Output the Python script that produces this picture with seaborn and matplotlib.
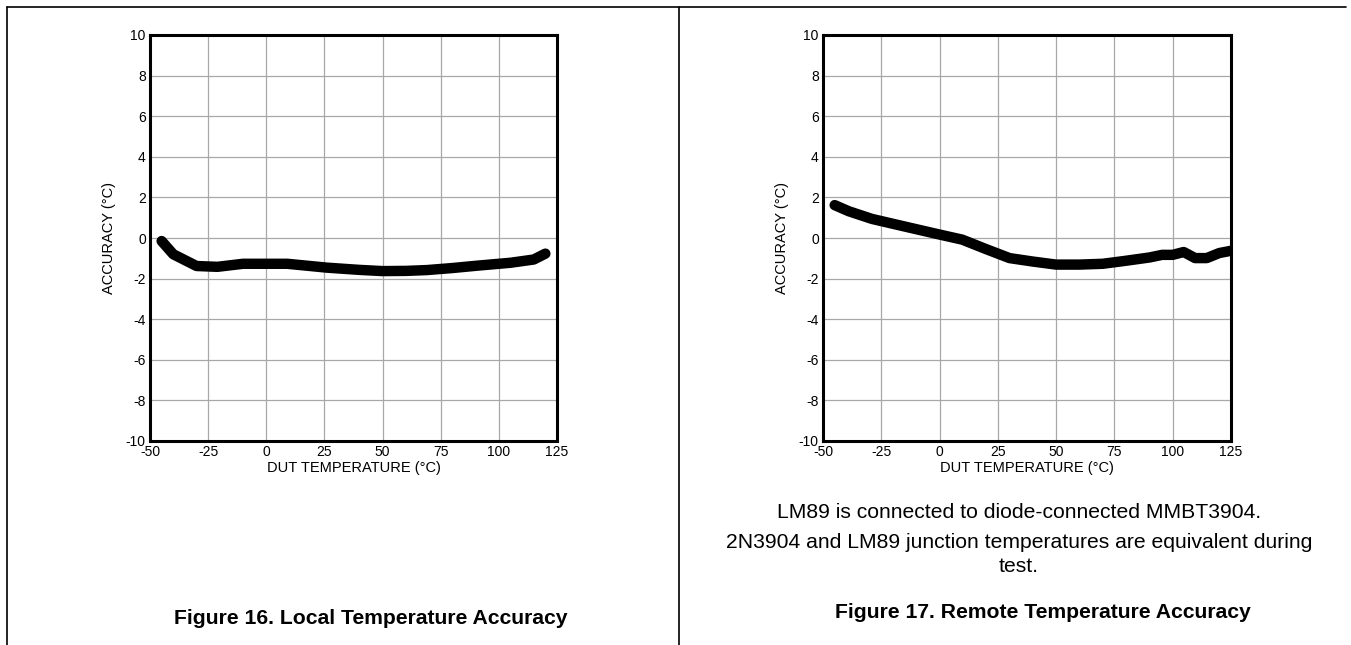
import numpy as np
import pandas as pd
import matplotlib
matplotlib.use("Agg")
import matplotlib.pyplot as plt
from matplotlib.lines import Line2D
import seaborn as sns

# Figure 16 - local temperature accuracy
local_temp = [-45, -40, -30, -21, -10, 0, 9, 26, 40, 50, 60, 69, 80, 91, 105, 115, 120]
local_acc = [-0.15, -0.8, -1.38, -1.42, -1.27, -1.27, -1.27, -1.46, -1.57, -1.63, -1.62, -1.58, -1.48, -1.36, -1.22, -1.06, -0.77]

# Figure 17 - remote temperature accuracy
remote_temp = [-45, -39, -29, -12.5, 0, 9.7, 20, 30, 40, 50, 60, 70, 80, 90, 95.5, 100, 104.7, 109.6, 114.6, 120, 125]
remote_acc = [1.62, 1.32, 0.94, 0.5, 0.17, -0.08, -0.55, -0.99, -1.16, -1.31, -1.31, -1.27, -1.12, -0.96, -0.83, -0.83, -0.69, -0.99, -0.99, -0.74, -0.63]

x_ticks = [-50, -25, 0, 25, 50, 75, 100, 125]
y_ticks = [-10, -8, -6, -4, -2, 0, 2, 4, 6, 8, 10]

captions = ["Figure 16. Local Temperature Accuracy", "Figure 17. Remote Temperature Accuracy"]
note_lines = ["LM89 is connected to diode-connected MMBT3904.",
              "2N3904 and LM89 junction temperatures are equivalent during",
              "test."]

sns.set_style("white")
plt.rcParams['font.family'] = ['Liberation Sans', 'DejaVu Sans']
plt.rcParams['text.color'] = 'black'
plt.rcParams['axes.labelcolor'] = 'black'
plt.rcParams['xtick.color'] = 'black'
plt.rcParams['ytick.color'] = 'black'

W, H = 1351, 645
fig = plt.figure(figsize=(W / 100, H / 100), dpi=100)


def px_box(x0, x1, ytop, ybot):
    return [x0 / W, 1 - ybot / H, (x1 - x0) / W, (ybot - ytop) / H]


def draw_panel(ax, temps, accs):
    df = pd.DataFrame({"temp": temps, "acc": accs})
    sns.lineplot(data=df, x="temp", y="acc", ax=ax, color="black", linewidth=7.5,
                 solid_capstyle="round", solid_joinstyle="round", zorder=3)
    ax.set_xlim(-50, 125)
    ax.set_ylim(-10, 10)
    ax.set_xticks(x_ticks)
    ax.set_yticks(y_ticks)
    ax.set_xticklabels([str(t) for t in x_ticks], fontsize=10)
    ax.set_yticklabels([str(t) for t in y_ticks], fontsize=10)
    ax.tick_params(length=0, pad=3)
    ax.grid(True, color="#a8a8a8", linewidth=0.9)
    ax.set_axisbelow(True)
    for s in ax.spines.values():
        s.set_visible(True)
        s.set_color("black")
        s.set_linewidth(2.2)
    ax.set_xlabel("DUT TEMPERATURE (°C)", fontsize=10.5, labelpad=1)
    ax.set_ylabel("ACCURACY (°C)", fontsize=10.5, labelpad=7)


ax1 = fig.add_axes(px_box(150, 557, 35, 441))
ax2 = fig.add_axes(px_box(823, 1231, 35, 441))
draw_panel(ax1, local_temp, local_acc)
draw_panel(ax2, remote_temp, remote_acc)

# page frame lines
fig.add_artist(Line2D([7 / W, 1346 / W], [1 - 7 / H, 1 - 7 / H], color="black", linewidth=1.2))
fig.add_artist(Line2D([7 / W, 7 / W], [1 - 7 / H, 0], color="black", linewidth=1.2))
fig.add_artist(Line2D([679 / W, 679 / W], [1 - 7 / H, 0], color="black", linewidth=1.2))

# notes and captions
for txt, yy in zip(note_lines, [513, 543, 567]):
    fig.text(1019 / W, 1 - yy / H, txt, ha="center", va="center", fontsize=15.2)
fig.text(371 / W, 1 - 618 / H, captions[0], ha="center", va="center", fontsize=15.2, fontweight="bold")
fig.text(1043 / W, 1 - 613 / H, captions[1], ha="center", va="center", fontsize=15.2, fontweight="bold")

fig.savefig("out.png", dpi=100)
plt.close(fig)
